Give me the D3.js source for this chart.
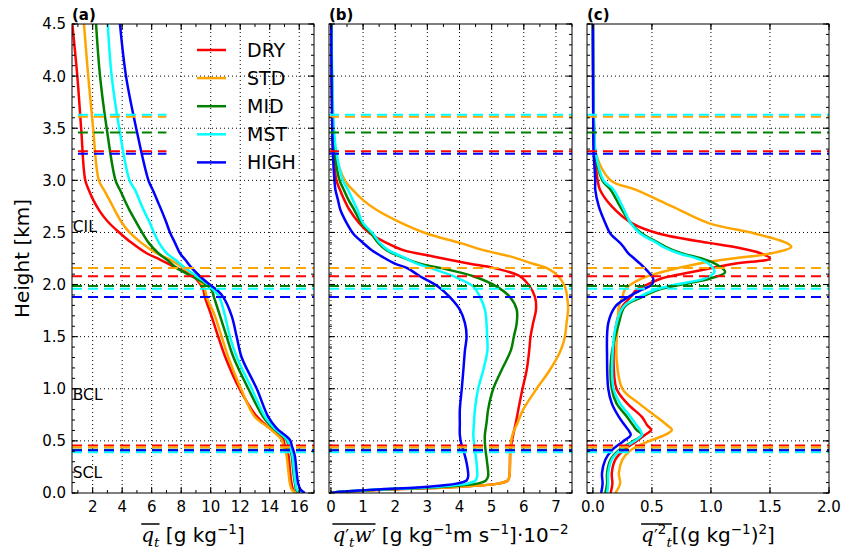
<!DOCTYPE html>
<meta charset="utf-8">

<script src="https://d3js.org/d3.v7.min.js"></script>

<style>
  body { margin: 0; background: #fff; }
  svg text { font-family: "DejaVu Sans", sans-serif; fill: #000; }
</style>

<div id="profiles"></div>

<script>

var w = 847
var h = 556

var cases = ["DRY", "STD", "MID", "MST", "HIGH"]
var caseColors = ["#ff0000", "#ffa500", "#008000", "#00ffff", "#0000ff"]

// (a) mean total water [g/kg]
var heightA = [0, 0.03, 0.09, 0.2, 0.35, 0.41, 0.45, 0.51, 0.62, 0.73, 1.0, 1.3, 1.5, 1.7, 1.88, 1.95, 2.01, 2.08, 2.16, 2.24, 2.3, 2.4, 2.5, 2.6, 2.7, 2.8, 2.9, 3.0, 3.5, 4.0, 4.5]
var meanDRY  = [15.85, 15.6, 15.48, 15.38, 15.28, 15.18, 15.02, 14.92, 14.02, 13.15, 11.95, 11.0, 10.51, 10.05, 9.61, 9.5, 9.27, 8.82, 7.69, 6.56, 5.66, 4.64, 3.8, 3.05, 2.5, 2.08, 1.76, 1.5, 1.22, 0.96, 0.62]
var meanSTD  = [15.82, 15.5, 15.37, 15.27, 15.15, 15.05, 14.92, 14.81, 14.0, 13.0, 12.05, 11.2, 10.74, 10.28, 9.73, 9.61, 9.39, 8.93, 8.14, 7.24, 6.34, 5.3, 4.5, 3.95, 3.55, 3.18, 2.8, 2.42, 2.03, 1.7, 1.41]
var meanMID  = [16.05, 15.8, 15.71, 15.6, 15.5, 15.4, 15.28, 15.14, 14.25, 13.56, 12.55, 11.55, 11.08, 10.63, 10.22, 10.06, 9.61, 8.71, 7.69, 7.02, 6.45, 5.8, 5.35, 4.95, 4.55, 4.2, 3.88, 3.55, 2.95, 2.5, 2.23]
var meanMST  = [16.1, 15.85, 15.75, 15.65, 15.55, 15.45, 15.33, 15.2, 14.32, 13.68, 12.78, 11.78, 11.3, 10.97, 10.58, 10.17, 9.73, 9.05, 8.26, 7.58, 7.02, 6.5, 6.15, 5.85, 5.5, 5.2, 4.9, 4.5, 3.8, 3.29, 3.02]
var meanHIGH = [16.39, 16.1, 15.93, 15.82, 15.71, 15.6, 15.5, 15.37, 14.47, 13.9, 13.12, 12.1, 11.76, 11.42, 10.85, 10.4, 9.84, 9.27, 8.71, 8.26, 7.92, 7.58, 7.24, 6.98, 6.7, 6.4, 6.1, 5.78, 4.95, 4.26, 3.85]

// (b) total water flux [1e-2 g/kg m/s]
var heightB = [0, 0.01, 0.03, 0.06, 0.09, 0.12, 0.16, 0.29, 0.41, 0.48, 0.56, 0.67, 0.8, 1.0, 1.18, 1.37, 1.5, 1.63, 1.76, 1.88, 1.98, 2.08, 2.16, 2.2, 2.27, 2.33, 2.4, 2.49, 2.59, 2.72, 2.81, 2.91, 3.0, 3.25, 3.5, 4.0, 4.5]
var fluxDRY  = [0, 0.25, 1.6, 4.0, 5.2, 5.5, 5.55, 5.57, 5.58, 5.62, 5.67, 5.75, 5.83, 5.96, 6.09, 6.17, 6.21, 6.29, 6.38, 6.35, 6.19, 5.88, 5.05, 4.32, 3.18, 2.25, 1.73, 1.22, 0.88, 0.57, 0.42, 0.28, 0.17, 0.08, 0.05, 0.02, 0.01]
var fluxSTD  = [0, 0.25, 1.6, 4.0, 5.2, 5.5, 5.55, 5.57, 5.58, 5.6, 5.65, 5.8, 5.98, 6.4, 6.81, 7.15, 7.28, 7.33, 7.38, 7.35, 7.28, 7.07, 6.71, 6.29, 5.57, 4.74, 4.01, 2.98, 2.2, 1.4, 1.0, 0.67, 0.43, 0.15, 0.08, 0.03, 0.01]
var fluxMID  = [0, 0.2, 1.4, 3.5, 4.55, 4.82, 4.89, 4.86, 4.81, 4.79, 4.79, 4.84, 4.89, 5.05, 5.31, 5.6, 5.69, 5.78, 5.78, 5.57, 5.16, 4.43, 3.39, 2.77, 2.15, 1.73, 1.47, 1.25, 0.95, 0.72, 0.55, 0.4, 0.27, 0.12, 0.07, 0.03, 0.01]
var fluxMST  = [0, 0.2, 1.3, 3.3, 4.25, 4.5, 4.55, 4.53, 4.48, 4.45, 4.43, 4.45, 4.48, 4.58, 4.74, 4.87, 4.86, 4.84, 4.79, 4.64, 4.43, 3.81, 3.08, 2.67, 2.2, 1.78, 1.52, 1.3, 1.0, 0.82, 0.68, 0.53, 0.37, 0.18, 0.09, 0.04, 0.01]
var fluxHIGH = [0, 0.2, 1.2, 3.0, 3.9, 4.22, 4.27, 4.22, 4.12, 4.05, 4.01, 4.01, 4.01, 4.07, 4.12, 4.17, 4.22, 4.17, 4.01, 3.7, 3.34, 2.77, 2.36, 1.99, 1.58, 1.27, 1.0, 0.69, 0.49, 0.29, 0.22, 0.14, 0.11, 0.06, 0.04, 0.02, 0.01]

// (c) total water variance [(g/kg)^2]
var heightC = [0, 0.09, 0.19, 0.32, 0.41, 0.49, 0.557, 0.605, 0.65, 0.73, 0.86, 1.0, 1.3, 1.63, 1.79, 1.88, 1.95, 2.0, 2.06, 2.12, 2.2, 2.25, 2.3, 2.36, 2.4, 2.49, 2.59, 2.75, 2.91, 3.0, 3.26, 3.5, 4.0, 4.5]
var varDRY  = [0.15, 0.165, 0.16, 0.19, 0.26, 0.36, 0.44, 0.494, 0.46, 0.415, 0.29, 0.2, 0.175, 0.2, 0.25, 0.32, 0.37, 0.46, 0.585, 0.84, 1.2, 1.5, 1.42, 1.2, 0.98, 0.556, 0.33, 0.16, 0.06, 0.04, 0.015, 0.005, 0.002, 0]
var varSTD  = [0.19, 0.23, 0.22, 0.25, 0.32, 0.46, 0.61, 0.67, 0.63, 0.54, 0.39, 0.25, 0.2, 0.21, 0.22, 0.25, 0.27, 0.32, 0.415, 0.585, 0.89, 1.18, 1.515, 1.68, 1.64, 1.37, 0.98, 0.67, 0.36, 0.15, 0.025, 0.01, 0.003, 0]
var varMID  = [0.105, 0.12, 0.12, 0.15, 0.22, 0.33, 0.415, 0.37, 0.34, 0.29, 0.2, 0.16, 0.155, 0.22, 0.27, 0.415, 0.556, 0.75, 1.0, 1.12, 1.035, 0.92, 0.75, 0.62, 0.556, 0.415, 0.32, 0.23, 0.15, 0.08, 0.02, 0.01, 0.003, 0]
var varMST  = [0.12, 0.13, 0.13, 0.16, 0.23, 0.34, 0.415, 0.4, 0.37, 0.32, 0.23, 0.175, 0.165, 0.2, 0.26, 0.39, 0.53, 0.7, 0.95, 1.03, 0.98, 0.88, 0.725, 0.6, 0.54, 0.4, 0.32, 0.25, 0.175, 0.09, 0.025, 0.01, 0.003, 0]
var varHIGH = [0.07, 0.082, 0.077, 0.105, 0.16, 0.25, 0.32, 0.3, 0.27, 0.22, 0.16, 0.13, 0.12, 0.13, 0.19, 0.3, 0.415, 0.5, 0.51, 0.47, 0.4, 0.35, 0.3, 0.26, 0.23, 0.147, 0.105, 0.05, 0.02, 0.02, 0.006, 0.003, 0.001, 0]

// inversion heights per case [km]
var inversionTop = [3.28, 3.61, 3.46, 3.63, 3.255]
var inversionMid = [2.08, 2.16, 1.985, 1.96, 1.88]
var inversionLow = [0.455, 0.44, 0.415, 0.39, 0.41]

var layerNames = ["CIL", "BCL", "SCL"]
var layerHeights = [2.5, 0.89, 0.14]

var heightTicks = [0, 0.5, 1.0, 1.5, 2.0, 2.5, 3.0, 3.5, 4.0, 4.5]
var ticksA = [2, 4, 6, 8, 10, 12, 14, 16]
var ticksB = [0, 1, 2, 3, 4, 5, 6, 7]
var ticksC = [0, 0.5, 1.0, 1.5, 2.0]


var margin = {top: 24, bottom: 63}

var svg = d3.select("#profiles")
  .append("svg")
    .attr("width", w)
    .attr("height", h)

var yScale = d3.scaleLinear()
  .domain([0, 4.5])
  .range([h - margin.bottom, margin.top])

var panels = [
  {name: "(a)", left: 72, right: 314, domain: [0.6, 17.0], ticks: ticksA, minor: d3.range(1, 17.01, 1), fmt: d3.format("d"),
   heights: heightA, series: [meanDRY, meanSTD, meanMID, meanMST, meanHIGH]},
  {name: "(b)", left: 329, right: 572, domain: [-0.06, 7.5], ticks: ticksB, minor: d3.range(0, 7.51, 0.5), fmt: d3.format("d"),
   heights: heightB, series: [fluxDRY, fluxSTD, fluxMID, fluxMST, fluxHIGH]},
  {name: "(c)", left: 587, right: 829, domain: [-0.05, 2.0], ticks: ticksC, minor: ticksC, fmt: d3.format(".1f"),
   heights: heightC, series: [varDRY, varSTD, varMID, varMST, varHIGH]}
]

var y0 = yScale(0), y1 = yScale(4.5)

function drawPanel(p, i) {

  var xScale = d3.scaleLinear().domain(p.domain).range([p.left, p.right])
  var g = svg.append("g")

  svg.append("clipPath").attr("id", "clip" + i)
    .append("rect")
      .attr("x", p.left).attr("y", y1)
      .attr("width", p.right - p.left).attr("height", y0 - y1)

  // dotted grid
  g.selectAll(".vgrid")
    .data(p.ticks.filter(t => xScale(t) > p.left + 1 && xScale(t) < p.right - 1))
    .enter()
    .append("line")
      .attr("x1", d => xScale(d)).attr("x2", d => xScale(d))
      .attr("y1", y0).attr("y2", y1)
      .attr("stroke", "#000").attr("stroke-width", 1)
      .attr("stroke-dasharray", "1,3")

  g.selectAll(".hgrid")
    .data(heightTicks.slice(1, -1))
    .enter()
    .append("line")
      .attr("x1", p.left).attr("x2", p.right)
      .attr("y1", d => yScale(d)).attr("y2", d => yScale(d))
      .attr("stroke", "#000").attr("stroke-width", 1)
      .attr("stroke-dasharray", "1,3")

  // profiles
  var line = d3.line()
    .x(d => xScale(d[1]))
    .y(d => yScale(d[0]))
    .curve(d3.curveCatmullRom)

  var plot = g.append("g").attr("clip-path", "url(#clip" + i + ")")

  plot.selectAll("path.profile")
    .data(p.series)
    .enter()
    .append("path")
      .attr("class", "profile")
      .attr("d", s => line(p.heights.map((hh, k) => [hh, s[k]])))
      .attr("fill", "none")
      .attr("stroke", (s, k) => caseColors[k])
      .attr("stroke-width", 2.5)
      .attr("stroke-linejoin", "round")

  // inversion heights
  var dashX = i == 0 ? [xScale(1.0), xScale(7.0)] : [p.left, p.right]
  var sets = [[inversionTop, dashX], [inversionMid, [p.left, p.right]], [inversionLow, [p.left, p.right]]]
  sets.forEach(function(set) {
    plot.selectAll(null)
      .data(set[0])
      .enter()
      .append("line")
        .attr("x1", set[1][0]).attr("x2", set[1][1])
        .attr("y1", d => yScale(d)).attr("y2", d => yScale(d))
        .attr("stroke", (d, k) => caseColors[k])
        .attr("stroke-width", 2)
        .attr("stroke-dasharray", "10,6")
  })

  // frame
  g.append("rect")
    .attr("x", p.left).attr("y", y1)
    .attr("width", p.right - p.left).attr("height", y0 - y1)
    .attr("fill", "none").attr("stroke", "#000").attr("stroke-width", 1)

  // ticks, pointing inward on all sides
  var xt = p.minor.map(d => [d, 3]).concat(p.ticks.map(d => [d, 6]))
    .filter(d => d[0] >= p.domain[0] && d[0] <= p.domain[1])
  g.selectAll(".xtick")
    .data(xt)
    .enter()
    .append("path")
      .attr("d", d => "M" + xScale(d[0]) + "," + y0 + "v" + (-d[1]) + "M" + xScale(d[0]) + "," + y1 + "v" + d[1])
      .attr("stroke", "#000").attr("stroke-width", 1)

  var yt = d3.range(0, 4.501, 0.1).map(d => [d, 3]).concat(heightTicks.map(d => [d, 6]))
  g.selectAll(".ytick")
    .data(yt)
    .enter()
    .append("path")
      .attr("d", d => "M" + p.left + "," + yScale(d[0]) + "h" + d[1] + "M" + p.right + "," + yScale(d[0]) + "h" + (-d[1]))
      .attr("stroke", "#000").attr("stroke-width", 1)

  g.selectAll(".xlabel")
    .data(p.ticks)
    .enter()
    .append("text")
      .attr("x", d => xScale(d))
      .attr("y", y0 + 19)
      .attr("text-anchor", "middle")
      .attr("font-size", "15px")
      .text(d => p.fmt(d))

  g.append("text")
    .attr("x", p.left)
    .attr("y", 20)
    .attr("font-size", "15px")
    .attr("font-weight", "bold")
    .text(p.name)

  return xScale
}

var scales = panels.map(drawPanel)

// height axis labels on (a) only
svg.selectAll(".hlabel")
  .data(heightTicks)
  .enter()
  .append("text")
    .attr("x", 66)
    .attr("y", d => yScale(d))
    .attr("dy", "0.36em")
    .attr("text-anchor", "end")
    .attr("font-size", "15px")
    .text(d => d3.format(".1f")(d))

svg.append("text")
  .attr("transform", "translate(29," + (y0 + y1) / 2 + ") rotate(-90)")
  .attr("text-anchor", "middle")
  .attr("font-size", "20px")
  .text("Height [km]")

// layer names in (a)
svg.selectAll(".layer")
  .data(layerNames)
  .enter()
  .append("text")
    .attr("x", scales[0](0.65))
    .attr("y", (d, k) => yScale(layerHeights[k]))
    .attr("font-size", "15.5px")
    .text(d => d)

// legend
var legend = svg.append("g").attr("transform", "translate(197,50)")
legend.selectAll("line")
  .data(cases)
  .enter()
  .append("line")
    .attr("x1", 0).attr("x2", 29)
    .attr("y1", (d, k) => k * 28.1).attr("y2", (d, k) => k * 28.1)
    .attr("stroke", (d, k) => caseColors[k])
    .attr("stroke-width", 2.5)
legend.selectAll("text")
  .data(cases)
  .enter()
  .append("text")
    .attr("x", 50)
    .attr("y", (d, k) => k * 28.1)
    .attr("dy", "0.36em")
    .attr("font-size", "19px")
    .text(d => d)

// x axis titles: [text, kind]; kinds: mi (math italic), pr (prime), sub, sup, rm
var labelA = [["q", "mi"], ["t", "sub"], [" [g kg", "rm"], ["\u22121", "sup"], ["]", "rm"]]
var labelB = [["q", "mi"], ["\u2032", "pr"], ["t", "sub"], ["w", "mi"], ["\u2032", "pr"],
              [" [g kg", "rm"], ["\u22121", "sup"], ["m s", "rm"], ["\u22121", "sup"], ["]\u00b710", "rm"], ["\u22122", "sup"]]
var labelC = [["q", "mi"], ["\u2032", "pr"], ["2", "sup"], ["t", "sub"], ["[(g kg", "rm"], ["\u22121", "sup"], [")", "rm"], ["2", "sup"], ["]", "rm"]]

function axisTitle(parts, cx, nOver) {
  var t = svg.append("text")
    .attr("x", cx)
    .attr("y", 542)
    .attr("text-anchor", "middle")
    .attr("font-size", "20px")
  var shift = 0
  parts.forEach(function(pt) {
    var kind = pt[1]
    var target = kind == "sub" ? 5 : kind == "sup" ? -8 : 0
    var span = t.append("tspan")
      .attr("dy", target - shift)
      .text(pt[0])
    shift = target
    if (kind == "mi" || kind == "sub") span.attr("font-family", "DejaVu Serif").attr("font-style", "italic")
    if (kind == "sub" || kind == "sup") span.attr("font-size", "13.5px")
    if (kind == "pr") span.attr("font-size", "17px")
  })
  // overline over the averaged quantity
  var node = t.node()
  var nChars = parts.slice(0, nOver).map(d => d[0]).join("").length
  var xa = node.getStartPositionOfChar(0).x
  var xe = xa
  for (var k = 0; k < nChars; k++) xe = Math.max(xe, node.getEndPositionOfChar(k).x)
  svg.append("line")
    .attr("x1", xa).attr("x2", xe)
    .attr("y1", 524).attr("y2", 524)
    .attr("stroke", "#000").attr("stroke-width", 1.5)
}

axisTitle(labelA, (panels[0].left + panels[0].right) / 2, 2)
axisTitle(labelB, (panels[1].left + panels[1].right) / 2, 5)
axisTitle(labelC, (panels[2].left + panels[2].right) / 2, 4)

</script>
